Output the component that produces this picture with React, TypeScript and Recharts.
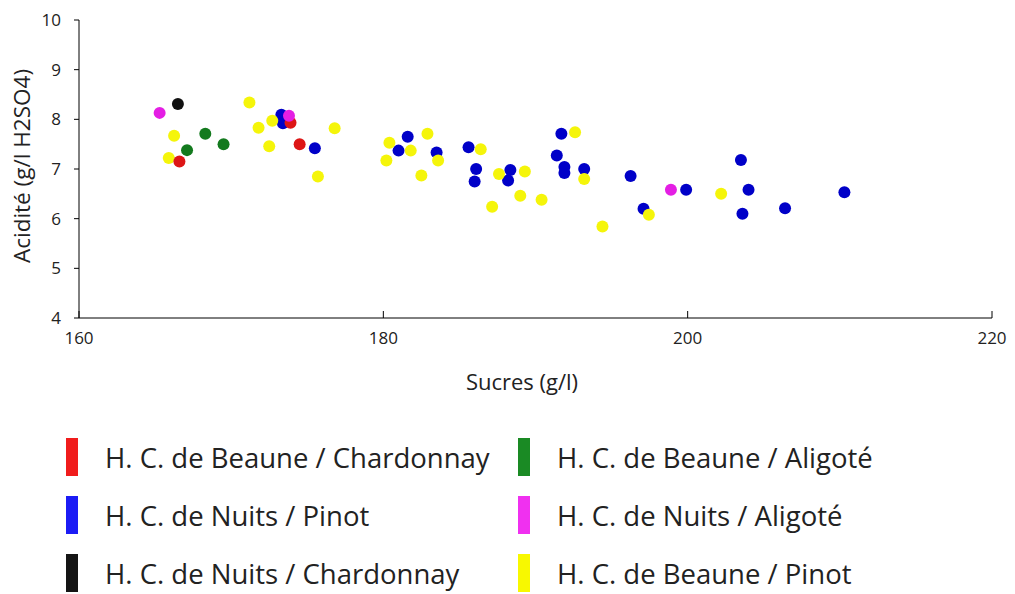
import { ScatterChart, Scatter, XAxis, YAxis, Label } from "recharts"

// sugar (g/l) vs acidity (g/l H2SO4)
const beauneChardonnaySugar = [166.6, 173.9, 174.5]
const beauneChardonnayAcid = [7.15, 7.93, 7.5]

const beauneAligoteSugar = [167.1, 168.3, 169.5]
const beauneAligoteAcid = [7.38, 7.71, 7.5]

const nuitsPinotSugar = [
  173.3, 173.4, 175.5, 181.6, 181.0, 183.5, 185.6, 186.1, 186.0, 188.35, 188.2, 191.7,
  191.4, 191.9, 191.9, 193.2, 196.25, 197.1, 199.9, 203.5, 204.0, 203.6, 206.4, 210.3,
]
const nuitsPinotAcid = [
  8.09, 7.92, 7.42, 7.65, 7.37, 7.33, 7.44, 7.0, 6.75, 6.98, 6.77, 7.71,
  7.27, 7.04, 6.92, 7.0, 6.86, 6.2, 6.58, 7.18, 6.58, 6.1, 6.21, 6.53,
]

const nuitsAligoteSugar = [165.3, 173.8, 198.9]
const nuitsAligoteAcid = [8.13, 8.07, 6.58]

const nuitsChardonnaySugar = [166.5]
const nuitsChardonnayAcid = [8.31]

const beaunePinotSugar = [
  166.25, 165.9, 171.2, 171.8, 172.7, 172.5, 175.7, 176.8, 180.4, 181.8, 180.2, 182.9,
  183.6, 182.5, 186.4, 187.6, 189.3, 189.0, 187.15, 192.6, 193.2, 190.4, 194.4, 197.45, 202.2,
]
const beaunePinotAcid = [
  7.67, 7.22, 8.34, 7.83, 7.97, 7.46, 6.85, 7.82, 7.53, 7.37, 7.17, 7.71,
  7.17, 6.87, 7.4, 6.9, 6.95, 6.46, 6.24, 7.74, 6.8, 6.38, 5.84, 6.08, 6.5,
]

const xTicks = [160, 180, 200, 220]
const yTicks = [4, 5, 6, 7, 8, 9, 10]

const FONT = "'Open Sans', sans-serif"

const toPoints = (xs: number[], ys: number[]) => xs.map((x, i) => ({ x, y: ys[i] }))

const series = [
  { name: "H. C. de Nuits / Pinot", data: toPoints(nuitsPinotSugar, nuitsPinotAcid), dot: "#0000c8", swatch: "#1c1cf5" },
  { name: "H. C. de Beaune / Pinot", data: toPoints(beaunePinotSugar, beaunePinotAcid), dot: "#f5f50a", swatch: "#f8f800" },
  { name: "H. C. de Beaune / Chardonnay", data: toPoints(beauneChardonnaySugar, beauneChardonnayAcid), dot: "#dd1616", swatch: "#f01c1c" },
  { name: "H. C. de Beaune / Aligoté", data: toPoints(beauneAligoteSugar, beauneAligoteAcid), dot: "#137a1e", swatch: "#1a8a24" },
  { name: "H. C. de Nuits / Aligoté", data: toPoints(nuitsAligoteSugar, nuitsAligoteAcid), dot: "#e41ee4", swatch: "#f030f0" },
  { name: "H. C. de Nuits / Chardonnay", data: toPoints(nuitsChardonnaySugar, nuitsChardonnayAcid), dot: "#111111", swatch: "#151515" },
]

// legend order as in the picture (two columns, three rows)
const legendLeft = ["H. C. de Beaune / Chardonnay", "H. C. de Nuits / Pinot", "H. C. de Nuits / Chardonnay"]
const legendRight = ["H. C. de Beaune / Aligoté", "H. C. de Nuits / Aligoté", "H. C. de Beaune / Pinot"]

const swatchOf = (name: string) => series.find((s) => s.name === name)?.swatch ?? "#000"

function XTick(props: any) {
  const { x, y, payload } = props
  const axisY = y - 8
  return (
    <g>
      <line x1={x} x2={x} y1={axisY} y2={axisY - 7} stroke="#000" strokeWidth={1} />
      <text x={x} y={y + 18} textAnchor="middle" fontSize={17} fontFamily={FONT} fill="#222">
        {payload.value}
      </text>
    </g>
  )
}

function YTick(props: any) {
  const { x, y, payload } = props
  return (
    <text x={x} y={y + 6} textAnchor="end" fontSize={17} fontFamily={FONT} fill="#222">
      {payload.value}
    </text>
  )
}

function LegendItem({ name, left, top }: { name: string; left: number; top: number }) {
  return (
    <div style={{ position: "absolute", left, top, height: 40, display: "flex", alignItems: "center" }}>
      <div style={{ width: 12, height: 38, background: swatchOf(name), marginRight: 27 }} />
      <span style={{ fontSize: 27.5, fontFamily: FONT, color: "#222", whiteSpace: "nowrap" }}>{name}</span>
    </div>
  )
}

export default function App() {
  return (
    <div style={{ position: "absolute", left: 0, top: 0, width: 1015, height: 594, background: "#fff" }}>
      <ScatterChart width={1015} height={400} margin={{ top: 20, right: 23, bottom: 0, left: 0 }}>
        <XAxis
          type="number"
          dataKey="x"
          domain={[160, 220]}
          ticks={xTicks}
          interval={0}
          height={82}
          axisLine={{ stroke: "#000", strokeWidth: 1 }}
          tickLine={false}
          tick={<XTick />}
        >
          <Label
            content={() => (
              <text x={522} y={390} textAnchor="middle" fontSize={22} fontFamily={FONT} fill="#222">
                Sucres (g/l)
              </text>
            )}
          />
        </XAxis>
        <YAxis
          type="number"
          dataKey="y"
          domain={[4, 10]}
          ticks={yTicks}
          interval={0}
          width={79}
          axisLine={{ stroke: "#000", strokeWidth: 1 }}
          tickLine={{ stroke: "#000" }}
          tickSize={5}
          tickMargin={13}
          tick={<YTick />}
        >
          <Label
            content={() => (
              <text
                x={30}
                y={166}
                transform="rotate(-90 30 166)"
                textAnchor="middle"
                fontSize={22.5}
                fontFamily={FONT}
                fill="#222"
              >
                Acidité (g/l H2SO4)
              </text>
            )}
          />
        </YAxis>
        {series.map((s) => (
          <Scatter
            key={s.name}
            name={s.name}
            data={s.data}
            fill={s.dot}
            isAnimationActive={false}
            shape={(p: any) => <circle cx={p.cx} cy={p.cy} r={6} fill={s.dot} />}
          />
        ))}
      </ScatterChart>
      {legendLeft.map((n, i) => (
        <LegendItem key={n} name={n} left={66} top={437 + i * 58} />
      ))}
      {legendRight.map((n, i) => (
        <LegendItem key={n} name={n} left={518} top={437 + i * 58} />
      ))}
    </div>
  )
}
